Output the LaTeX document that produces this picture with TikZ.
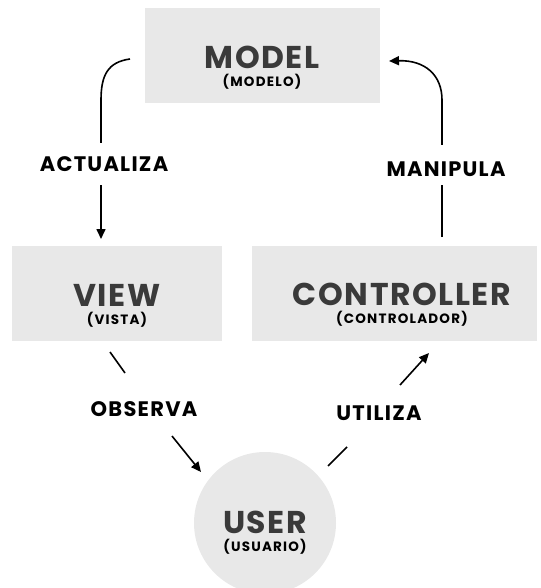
\documentclass[tikz,border=0pt]{standalone}
\usepackage{fontspec}
\setmainfont{Poppins}[BoldFont={* Bold}]
\usetikzlibrary{arrows.meta}
\definecolor{boxgray}{HTML}{E8E8E8}
\definecolor{titlegray}{HTML}{3A3A3A}
\tikzset{
  box/.style={fill=boxgray, draw=none, minimum width=#1, minimum height=95pt, inner sep=0pt},
  title/.style={text=titlegray, font=\bfseries\fontsize{31.5}{32}\selectfont\addfontfeatures{LetterSpace=5}, inner sep=0pt},
  sub/.style={text=black, font=\bfseries\fontsize{13.5}{14}\selectfont\addfontfeatures{LetterSpace=9}, inner sep=0pt},
  lbl/.style={text=black, font=\bfseries\fontsize{21}{22}\selectfont\addfontfeatures{LetterSpace=6}, inner sep=0pt},
  conn/.style={line width=1.6pt, black},
  arr/.style={conn, -{Triangle[length=10pt,width=9pt]}},
}
\begin{document}
\begin{tikzpicture}[x=1pt,y=-1pt]
\useasboundingbox (0,0) rectangle (540,588);
% boxes
\node[box=235pt] (model) at (262.5,55.5) {};
\node[box=210pt] (view) at (117,293) {};
\node[box=285pt] (ctrl) at (394.5,293) {};
\node[circle, fill=boxgray, minimum size=142pt, inner sep=0pt] (user) at (265,523) {};
% titles
\node[title] (modelt) at (262,57) {MODEL};
\node[sub] (models) at (262,82) {(MODELO)};
\node[title] (viewt) at (117,295) {VIEW};
\node[sub] (views) at (117,320) {(VISTA)};
\node[title] (ctrlt) at (402,294) {CONTROLLER};
\node[sub] (ctrls) at (402,319) {(CONTROLADOR)};
\node[title] (usert) at (265,522) {USER};
\node[sub] (users) at (265,547) {(USUARIO)};
% labels
\node[lbl] (act) at (104,164) {ACTUALIZA};
\node[lbl] (man) at (446,169) {MANIPULA};
\node[lbl] (obs) at (144,409) {OBSERVA};
\node[lbl] (uti) at (379,413) {UTILIZA};
% coordinates
\coordinate (a1) at (130,59);
\coordinate (a2) at (101,143);
\coordinate (a3) at (101,185);
\coordinate (a4) at (101,239);
\coordinate (m1) at (442,237);
\coordinate (m2) at (442,185);
\coordinate (m3) at (442,145);
\coordinate (m4) at (389,61);
\coordinate (o1) at (110,352);
\coordinate (o2) at (125,373);
\coordinate (o3) at (172,436);
\coordinate (o4) at (201,472);
\coordinate (u1) at (328,466);
\coordinate (u2) at (347,447);
\coordinate (u3) at (400,385);
\coordinate (u4) at (429,353);
% connectors
\draw[conn] (a1) .. controls (108,62) and (101,75) .. (101,100) -- (a2);
\draw[arr] (a3) -- (a4);
\draw[conn] (m1) -- (m2);
\draw[arr] (m3) -- (442,100) .. controls (442,75) and (425,60) .. (m4);
\draw[conn] (o1) -- (o2);
\draw[arr] (o3) -- (o4);
\draw[conn] (u1) -- (u2);
\draw[arr] (u3) -- (u4);
\end{tikzpicture}
\end{document}
